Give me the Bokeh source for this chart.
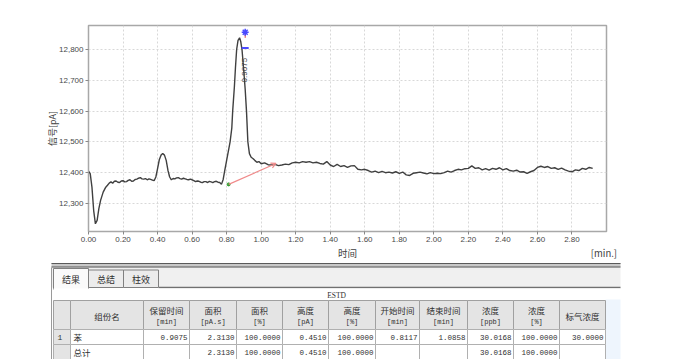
import math
from bokeh.plotting import figure
from bokeh.document import Document
from bokeh.events import DocumentReady
from bokeh.models import (Range1d, FixedTicker, NumeralTickFormatter, LinearAxis,
                          Arrow, OpenHead, CustomJS)
from bokeh.embed import file_html
from bokeh.resources import INLINE
from bokeh.core.properties import value

# ---------------- data ----------------
time_min = [
    0.00, 0.01, 0.02, 0.03, 0.04, 0.05, 0.06, 0.07, 0.085, 0.10, 0.11, 0.12, 0.13, 0.14,
    0.15, 0.16, 0.17, 0.18, 0.19, 0.20, 0.21, 0.22, 0.23, 0.24, 0.25, 0.26, 0.27, 0.28,
    0.29, 0.30, 0.31, 0.32, 0.33, 0.34, 0.35, 0.36, 0.37, 0.38, 0.39, 0.40, 0.41, 0.42,
    0.43, 0.44, 0.45, 0.46, 0.47, 0.48, 0.49, 0.50, 0.51, 0.52, 0.53, 0.54, 0.55, 0.56,
    0.57, 0.58, 0.59, 0.60, 0.61, 0.62, 0.63, 0.64, 0.65, 0.66, 0.67, 0.68, 0.69, 0.70,
    0.71, 0.72, 0.73, 0.74, 0.75, 0.76, 0.77, 0.78, 0.79, 0.80, 0.8117,
    0.82, 0.83, 0.835, 0.845, 0.851, 0.858, 0.866, 0.875, 0.882, 0.889, 0.898, 0.9075,
    0.915, 0.923, 0.932, 0.942, 0.952, 0.963, 0.975, 0.987, 1.00,
    1.02, 1.04, 1.06, 1.08, 1.10, 1.12, 1.14, 1.16, 1.18, 1.20, 1.22, 1.24, 1.26, 1.28,
    1.30, 1.32, 1.34, 1.36, 1.38, 1.40, 1.42, 1.44, 1.46, 1.48, 1.50, 1.52, 1.54, 1.56,
    1.58, 1.60, 1.62, 1.64, 1.66, 1.68, 1.70, 1.72, 1.74, 1.76, 1.78, 1.80, 1.82, 1.84,
    1.86, 1.88, 1.90, 1.92, 1.94, 1.96, 1.98, 2.00, 2.02, 2.04, 2.06, 2.08, 2.10, 2.12,
    2.14, 2.16, 2.18, 2.20, 2.22, 2.24, 2.26, 2.28, 2.30, 2.32, 2.34, 2.36, 2.38, 2.40,
    2.42, 2.44, 2.46, 2.48, 2.50, 2.52, 2.54, 2.56, 2.58, 2.60, 2.62, 2.64, 2.66, 2.68,
    2.70, 2.72, 2.74, 2.76, 2.78, 2.80, 2.82, 2.84, 2.86, 2.88, 2.90, 2.92, 2.94, 2.96,
    2.98, 3.00,
]
signal_pa = [
    12405, 12397, 12353, 12277, 12234, 12245, 12283, 12310, 12337, 12353, 12359, 12366, 12370, 12366,
    12372, 12373, 12369, 12368, 12373, 12374, 12370, 12371, 12375, 12377, 12372, 12373, 12378, 12379,
    12382, 12384, 12380, 12379, 12381, 12377, 12380, 12378, 12376, 12374, 12386, 12413, 12442, 12457,
    12462, 12457, 12440, 12408, 12386, 12377, 12381, 12380, 12383, 12384, 12381, 12379, 12382, 12380,
    12378, 12377, 12379, 12377, 12374, 12371, 12373, 12372, 12369, 12368, 12371, 12371, 12368, 12372,
    12370, 12368, 12371, 12372, 12369, 12368, 12362,
    12378, 12410, 12440, 12475, 12500, 12545, 12600, 12680, 12740, 12800, 12830, 12838,
    12825, 12800, 12740, 12670, 12600, 12500, 12462, 12450, 12446,
    12440, 12434, 12436, 12429, 12432, 12426, 12425, 12427, 12423, 12425, 12428, 12426, 12432, 12434,
    12432, 12436, 12434, 12436, 12432, 12434, 12430, 12428, 12436, 12425, 12420, 12427, 12420, 12423,
    12417, 12422, 12423, 12411, 12409, 12411, 12407, 12402, 12405, 12400, 12404, 12400, 12402, 12399,
    12403, 12398, 12402, 12393, 12391, 12398, 12400, 12402, 12399, 12396, 12400, 12397, 12398, 12397,
    12400, 12405, 12402, 12407, 12411, 12409, 12413, 12414, 12422, 12414, 12416, 12409, 12413, 12408,
    12414, 12411, 12416, 12409, 12413, 12407, 12405, 12408, 12402, 12403, 12398, 12403, 12407, 12417,
    12421, 12417, 12420, 12414, 12416, 12411, 12415, 12409, 12405, 12403, 12409, 12407, 12414, 12411,
    12417, 12414,
]

x_ticks = [0.00, 0.20, 0.40, 0.60, 0.80, 1.00, 1.20, 1.40, 1.60, 1.80, 2.00, 2.20, 2.40, 2.60, 2.80]
y_ticks = [12300, 12400, 12500, 12600, 12700, 12800]
x_title = "时间"
x_title_at = 1.50
x_unit = "[min.]"
x_unit_at = 2.985
y_title = "信号[pA]"

peak_rt = 0.9075
peak_top = 12838
peak_label = "0.9075"
base_start = (0.8117, 12362)
base_end = (1.0858, 12430)

tabs = ["结果", "总结", "柱效"]
table_title = "ESTD"
head_names = ["", "组份名", "保留时间", "面积", "面积", "高度", "高度", "开始时间", "结束时间", "浓度", "浓度", "标气浓度"]
head_units = ["", "", "[min]", "[pA.s]", "[%]", "[pA]", "[%]", "[min]", "[min]", "[ppb]", "[%]", ""]
row1 = ["1", "苯", "0.9075", "2.3130", "100.0000", "0.4510", "100.0000", "0.8117", "1.0858", "30.0168", "100.0000", "30.0000"]
row2 = ["", "总计", "", "2.3130", "100.0000", "0.4510", "100.0000", "", "", "30.0168", "100.0000", ""]

# ---------------- chart ----------------
TICK_FONT = "Liberation Sans"
CJK_FONT = "Noto Sans CJK SC"
CHART_H = 262
X0, X1 = 0.0, 3.0
Y0, Y1 = 12209, 12878
p = figure(width=674, height=CHART_H, x_range=Range1d(X0, X1), y_range=Range1d(Y0, Y1),
           output_backend="svg", toolbar_location=None,
           min_border_left=88, min_border_right=68, min_border_top=25, min_border_bottom=31)
p.background_fill_color = "white"
p.border_fill_color = "white"
p.outline_line_color = "#a8a8a8"
p.outline_line_width = 1.5

p.xaxis.ticker = FixedTicker(ticks=x_ticks)
p.xaxis.formatter = NumeralTickFormatter(format="0.00")
p.yaxis.ticker = FixedTicker(ticks=y_ticks)
p.yaxis.formatter = NumeralTickFormatter(format="0,0")
for ax in (p.xaxis, p.yaxis):
    ax.axis_line_color = "#a8a8a8"
    ax.major_tick_line_color = "#888888"
    ax.major_tick_out = 3
    ax.major_tick_in = 0
    ax.minor_tick_line_color = None
    ax.major_label_text_font = TICK_FONT
    ax.major_label_text_font_size = "8px"
    ax.major_label_text_color = "#484848"
    ax.major_label_standoff = 2
p.yaxis.axis_label = y_title
p.yaxis.axis_label_text_font = CJK_FONT
p.yaxis.axis_label_text_font_style = "normal"
p.yaxis.axis_label_text_font_size = "9px"
p.yaxis.axis_label_text_color = "#404040"
p.yaxis.axis_label_standoff = -3

# second, label-only axis carrying the title and unit on one line
lab_ax = LinearAxis(ticker=FixedTicker(ticks=[x_title_at, x_unit_at]),
                    major_label_overrides={x_title_at: x_title, x_unit_at: x_unit},
                    axis_line_color=None, major_tick_line_color=None, minor_tick_line_color=None,
                    major_tick_out=0, major_tick_in=0,
                    major_label_standoff=1, major_label_text_font=CJK_FONT,
                    major_label_text_font_size="9.5px", major_label_text_color="#404040")
p.add_layout(lab_ax, "below")

p.grid.grid_line_color = "#d8d8d8"
p.grid.grid_line_dash = "2 2"
p.xgrid[0].ticker = FixedTicker(ticks=x_ticks)

p.line(time_min, signal_pa, line_color="#404040", line_width=1.4)

# integration baseline
p.add_layout(Arrow(x_start=base_start[0], y_start=base_start[1], x_end=base_end[0], y_end=base_end[1],
                   line_color="#f08a8a", line_width=1.2,
                   end=OpenHead(size=5, line_color="#f08a8a", line_width=1.2)))
p.scatter([base_start[0]], [base_start[1]], marker="circle", size=3, color="#30a030")

# peak markers
p.segment([peak_rt], [peak_top], [peak_rt], [peak_top + 16], line_color="#e04040", line_width=1)
p.scatter([peak_rt], [peak_top + 18], marker="asterisk", size=7, line_color="#4a4aff", line_width=1.5)
p.scatter([peak_rt], [12805], marker="dash", size=7, line_color="#4a4aff", line_width=2)
p.text([peak_rt - 0.006], [12733], text=[peak_label], angle=math.pi / 2,
       text_font=value(TICK_FONT), text_font_size="8px", text_color="#404040",
       text_align="center", text_baseline="middle")

# ---------------- table panel ----------------
t = figure(width=674, height=359 - CHART_H, x_range=Range1d(0, 674), y_range=Range1d(359, CHART_H),
           output_backend="svg", toolbar_location=None, min_border=0,
           x_axis_type=None, y_axis_type=None)
t.grid.visible = False
t.outline_line_color = None
t.background_fill_color = "white"
t.border_fill_color = "white"

CJK = value(CJK_FONT)
MONO = value("Liberation Mono")
# separator bar
t.quad(left=[51], right=[620], top=[262.5], bottom=[267], fill_color="#c8c8c8", line_color=None)
t.segment([51, 51], [263, 266.5], [620, 620], [263, 266.5], line_color="#5a5a5a", line_width=1.2)
# tab strip
t.quad(left=[51], right=[620], top=[267.5], bottom=[287], fill_color="#f0f0f0", line_color=None)
t.segment([51], [267], [51], [359], line_color="#9a9a9a", line_width=1)
t.segment([158], [287], [620], [287], line_color="#707070", line_width=1.5)
tab_l = [53, 88, 123]
tab_r = [88, 123, 158]
tab_fill = ["#fafafa", "#ececec", "#ececec"]
tab_bot = [289, 287, 287]
t.quad(left=tab_l, right=tab_r, top=[268, 269.5, 269.5], bottom=tab_bot,
       fill_color=tab_fill, line_color="#808080", line_width=1)
t.text([(a + b) / 2 for a, b in zip(tab_l, tab_r)], [279, 278.5, 278.5], text=tabs,
       text_font=CJK, text_font_size="9px", text_color="#303030",
       text_align="center", text_baseline="middle")
# ESTD title row
t.quad(left=[53], right=[620], top=[288], bottom=[300], fill_color="white", line_color=None)
t.text([336], [294.5], text=[table_title], text_font=value("Liberation Serif"),
       text_font_size="7.5px", text_color="#303030", text_align="center", text_baseline="middle")
# light blue area
t.quad(left=[605], right=[620], top=[299], bottom=[359], fill_color="#eef5fd", line_color=None)

col_edges = [53, 70, 143, 189, 236, 282, 328, 375, 419, 467, 513, 559, 605]
lefts = col_edges[:-1]
rights = col_edges[1:]
n = len(lefts)
t.quad(left=lefts, right=rights, top=[300] * n, bottom=[329] * n,
       fill_color="#e4e4e4", line_color="#a0a0a0", line_width=1)
body_fill = ["#e4e4e4"] + ["white"] * (n - 1)
t.quad(left=lefts, right=rights, top=[329] * n, bottom=[344] * n,
       fill_color=body_fill, line_color="#b0b0b0", line_width=1)
t.quad(left=lefts, right=rights, top=[344] * n, bottom=[359] * n,
       fill_color=body_fill, line_color="#b0b0b0", line_width=1)

centers = [(a + b) / 2 for a, b in zip(lefts, rights)]
one_x, one_t, two_x, two_t, two_u = [], [], [], [], []
for c, nm, un in zip(centers, head_names, head_units):
    if not nm:
        continue
    if un:
        two_x.append(c); two_t.append(nm); two_u.append(un)
    else:
        one_x.append(c); one_t.append(nm)
t.text(one_x, [315] * len(one_x), text=one_t, text_font=CJK, text_font_size="8.5px",
       text_color="#303030", text_align="center", text_baseline="middle")
t.text(two_x, [309] * len(two_x), text=two_t, text_font=CJK, text_font_size="8.5px",
       text_color="#303030", text_align="center", text_baseline="middle")
t.text(two_x, [321] * len(two_x), text=two_u, text_font=MONO,
       text_font_size="7px", text_color="#303030", text_align="center", text_baseline="middle")

for yy, row in ((336.5, row1), (351.5, row2)):
    t.text([57], [yy], text=[row[0]], text_font=MONO, text_font_size="8px",
           text_color="#303030", text_align="left", text_baseline="middle")
    t.text([73], [yy], text=[row[1]], text_font=CJK, text_font_size="8.5px",
           text_color="#303030", text_align="left", text_baseline="middle")
    xs = [r - 2 for r in rights[2:]]
    t.text(xs, [yy] * len(xs), text=row[2:], text_font=MONO,
           text_font_size="7.5px", text_color="#303030", text_align="right", text_baseline="middle")

# re-map all glyphs once the page (and its fonts) have settled
doc = Document()
doc.add_root(p)
doc.add_root(t)
refresh = CustomJS(args=dict(xr=p.x_range, yr=p.y_range, x1=X1, y0=Y0), code="""
function nudge() {
    xr.end = x1 + 1e-9; yr.start = y0 - 1e-9;
    setTimeout(function () { xr.end = x1; yr.start = y0; }, 20);
}
setTimeout(nudge, 50);
setTimeout(nudge, 300);
setTimeout(nudge, 900);
""")
doc.js_on_event(DocumentReady, refresh)

open("out.html", "w").write(file_html(doc, INLINE))
